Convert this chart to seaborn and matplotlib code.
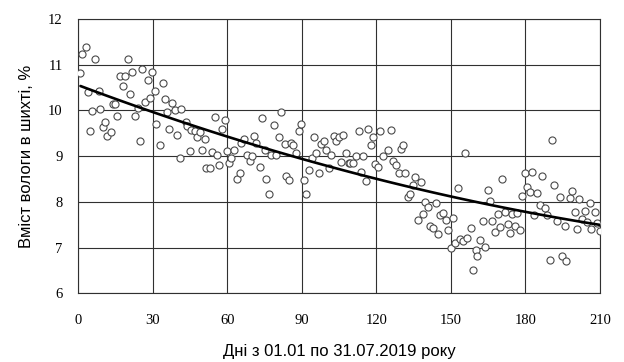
import numpy as np
import pandas as pd
import matplotlib
matplotlib.use("Agg")
import matplotlib.pyplot as plt
import seaborn as sns

# Дні та вміст вологи
days = [
    1.0, 1.8, 3.1, 4.0, 5.0, 5.8, 6.7, 8.3, 9.0, 10.0, 11.0, 11.8, 13.2, 14.1, 15.0,
    15.8, 16.8, 18.1, 19.0, 20.0, 20.8, 21.7, 23.0, 24.2, 24.8, 25.8, 26.8, 28.2, 28.8, 29.9,
    30.9, 31.5, 33.1, 34.0, 34.9, 35.8, 36.6, 38.0, 38.9, 39.8, 40.9, 41.6, 43.3, 43.8, 44.9,
    45.6, 46.9, 48.0, 49.0, 49.9, 51.0, 51.4, 53.0, 53.9, 55.0, 55.9, 56.7, 58.1, 59.0, 59.9,
    60.7, 61.7, 62.6, 63.8, 65.0, 65.7, 66.8, 68.1, 69.1, 70.0, 70.8, 71.8, 73.1, 74.0, 75.1,
    75.8, 76.7, 77.8, 78.8, 79.8, 80.7, 81.8, 83.1, 83.8, 84.8, 85.6, 86.5, 87.9, 88.8, 89.9,
    90.8, 91.6, 93.0, 94.1, 94.9, 95.9, 96.8, 97.9, 98.8, 99.9, 100.8, 101.7, 102.9, 103.9, 105.0,
    105.7, 106.6, 108.0, 108.9, 109.6, 110.6, 111.7, 113.0, 114.0, 114.6, 115.7, 116.7, 118.0, 118.7, 119.6,
    120.7, 121.6, 122.7, 124.7, 125.8, 126.7, 128.1, 129.0, 129.8, 130.7, 131.7, 132.7, 133.7, 134.8, 135.7,
    136.8, 138.1, 138.8, 139.7, 140.8, 141.5, 142.8, 144.2, 144.8, 145.5, 146.8, 147.9, 148.8, 149.9, 150.8,
    151.8, 152.9, 153.5, 154.9, 155.8, 156.5, 158.0, 158.9, 160.0, 160.7, 161.6, 162.9, 163.9, 164.9, 165.6,
    166.5, 167.9, 168.9, 169.6, 170.7, 171.6, 173.0, 173.7, 174.6, 175.7, 176.7, 178.0, 178.8, 179.7, 180.8,
    181.7, 182.8, 183.3, 184.8, 185.7, 186.6, 188.0, 188.8, 189.7, 190.7, 191.5, 192.9, 193.8, 194.7, 195.8,
    196.5, 197.8, 198.9, 199.8, 200.8, 201.6, 202.7, 203.8, 204.9, 205.8, 206.5, 207.8, 208.8, 209.9,
]
moisture = [
    10.81, 11.23, 11.39, 10.41, 9.54, 9.99, 11.12, 10.42, 10.03, 9.64, 9.74, 9.44, 9.52, 10.15, 10.14,
    9.87, 10.75, 10.53, 10.75, 11.12, 10.36, 10.84, 9.87, 10.06, 9.32, 10.90, 10.19, 10.66, 10.28, 10.84,
    10.43, 9.70, 9.25, 10.60, 10.26, 9.97, 9.60, 10.17, 10.00, 9.47, 8.96, 10.02, 9.75, 9.65, 9.11,
    9.57, 9.55, 9.42, 9.53, 9.13, 9.38, 8.73, 8.75, 9.09, 9.86, 9.02, 8.80, 9.60, 9.79, 9.11,
    8.85, 8.96, 9.14, 8.51, 8.63, 9.29, 9.38, 9.03, 8.89, 9.00, 9.44, 9.29, 8.76, 9.84, 9.14,
    8.51, 8.18, 9.03, 9.69, 9.02, 9.42, 9.97, 9.27, 8.56, 8.47, 9.29, 9.24, 9.07, 9.55, 9.70,
    8.48, 8.18, 8.70, 8.96, 9.42, 9.07, 8.63, 9.26, 9.32, 9.13, 8.75, 9.02, 9.44, 9.32, 9.42,
    8.87, 9.47, 9.07, 8.85, 8.85, 8.85, 9.00, 9.54, 8.65, 9.00, 8.45, 9.59, 9.25, 9.41, 8.82,
    8.76, 9.54, 9.00, 9.13, 9.57, 8.89, 8.81, 8.63, 9.16, 9.25, 8.62, 8.10, 8.18, 8.36, 8.54,
    7.61, 8.43, 7.74, 7.99, 7.88, 7.48, 7.43, 7.97, 7.30, 7.72, 7.75, 7.61, 7.39, 6.99, 7.64,
    7.10, 8.31, 7.19, 7.15, 9.07, 7.21, 7.42, 6.50, 6.95, 6.81, 7.17, 7.58, 7.01, 8.25, 8.01,
    7.59, 7.34, 7.74, 7.45, 8.51, 7.77, 7.52, 7.32, 7.74, 7.48, 7.76, 7.39, 8.12, 8.62, 8.32,
    8.21, 8.65, 7.72, 8.19, 7.92, 8.56, 7.87, 7.72, 6.72, 9.35, 8.36, 7.58, 8.10, 6.81, 7.48,
    6.70, 8.08, 8.23, 7.77, 7.41, 8.07, 7.63, 7.80, 7.56, 7.97, 7.41, 7.77, 7.53, 7.37,
]
x_ticks = [0, 30, 60, 90, 120, 150, 180, 210]
y_ticks = [6, 7, 8, 9, 10, 11, 12]
x_label = "Дні з 01.01 по 31.07.2019 року"
y_label = "Вміст вологи в шихті, %"

df = pd.DataFrame({"day": days, "w": moisture})

sns.set_style("white")
plt.rcParams["font.family"] = ["Liberation Sans", "DejaVu Sans"]
plt.rcParams["text.color"] = "black"
plt.rcParams["axes.labelcolor"] = "black"

fig = plt.figure(figsize=(6.24, 3.62), dpi=100)
ax = fig.add_axes([0.125, 0.19, 0.8365, 0.7575])

sns.scatterplot(data=df, x="day", y="w", ax=ax, s=26, facecolor="white",
                edgecolor="#4a4a4a", linewidth=0.8, zorder=3)
# поліноміальний тренд 2-го порядку
sns.regplot(data=df, x="day", y="w", ax=ax, order=2, ci=None, scatter=False,
            line_kws={"color": "black", "lw": 1.9, "zorder": 4})

ax.set_xlim(0, 210)
ax.set_ylim(6, 12)
ax.set_xticks(x_ticks)
ax.set_yticks(y_ticks)
ax.grid(True, color="#303030", lw=0.8)
ax.set_axisbelow(True)
for sp in ax.spines.values():
    sp.set_visible(True)
    sp.set_color("#303030")
    sp.set_linewidth(0.8)

ax.tick_params(direction="out", length=4, width=0.8, color="#303030",
               labelcolor="black")
ax.tick_params(axis="x", pad=11)
ax.tick_params(axis="y", pad=7)
for lab in ax.get_xticklabels() + ax.get_yticklabels():
    lab.set_fontfamily("Liberation Serif")
    lab.set_fontsize(10.5)

ax.set_xlabel(x_label, fontsize=12, labelpad=12)
ax.set_ylabel(y_label, fontsize=12, labelpad=10)

fig.savefig("out.png", dpi=100)
